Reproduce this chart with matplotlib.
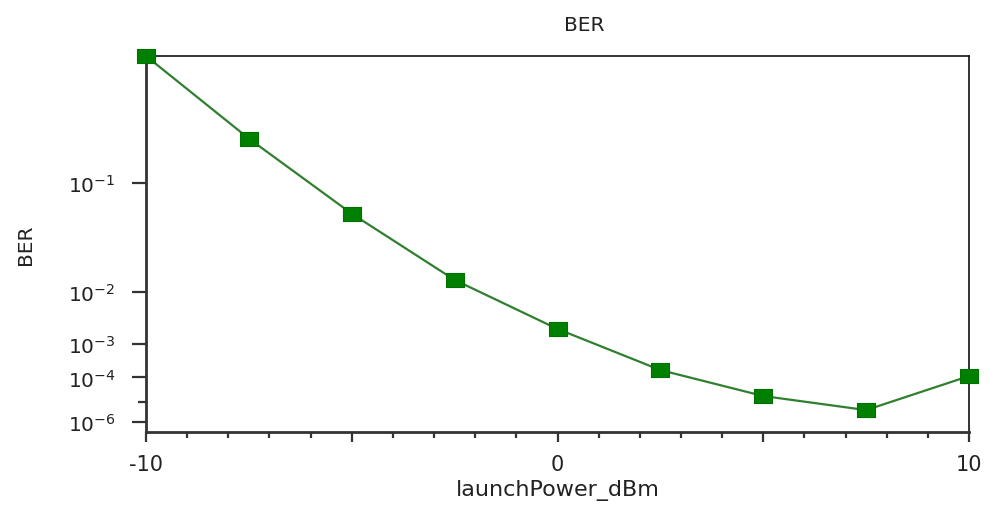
import math
import numpy as np
import matplotlib
matplotlib.use("Agg")
import matplotlib.pyplot as plt
from matplotlib.ticker import FixedLocator, FixedFormatter, NullFormatter

plt.rcParams["font.family"] = ["DejaVu Sans"]
plt.rcParams["mathtext.default"] = "regular"

# Swept launch power and the resulting bit error rate
launch_power_dbm = [-10, -7.5, -5, -2.5, 0, 2.5, 5, 7.5, 10]
ber_values = [0.262, 0.158, 0.065, 0.0147, 0.00218, 1.77e-4, 1.9e-5, 4.3e-6, 1.11e-4]

ber_ticks = [1e-1, 1e-2, 1e-3, 1e-4, 1e-6]
ber_tick_labels = ["10$^{-1}$", "10$^{-2}$", "10$^{-3}$", "10$^{-4}$", "10$^{-6}$"]
ber_minor_ticks = [1e-5]
x_major_ticks = [-10, -5, 0, 5, 10]
x_major_labels = ["-10", "", "0", "", "10"]
x_minor_ticks = list(range(-10, 11))

_erfc = np.vectorize(math.erfc)


def q_from_ber(ber):
    """Inverse of BER = 0.5*erfc(Q/sqrt(2)) by bisection."""
    ber = np.clip(np.asarray(ber, dtype=float), 1e-300, 0.5 - 1e-12)
    lo = np.zeros_like(ber)
    hi = np.full_like(ber, 40.0)
    for _ in range(80):
        mid = 0.5 * (lo + hi)
        val = 0.5 * _erfc(mid / math.sqrt(2.0))
        too_big = val > ber
        lo = np.where(too_big, mid, lo)
        hi = np.where(too_big, hi, mid)
    return np.maximum(0.5 * (lo + hi), 1e-9)


def ber_forward(ber):
    return -np.log10(q_from_ber(ber))


def ber_inverse(y):
    q = 10.0 ** (-np.asarray(y, dtype=float))
    return 0.5 * _erfc(q / math.sqrt(2.0))


fig = plt.figure(figsize=(9.89, 5.06), dpi=100)
ax = fig.add_axes([146 / 989, 1 - 433 / 506, 823 / 989, 376 / 506])

ax.set_yscale("function", functions=(ber_forward, ber_inverse))

marker_shape = [(-1.0, -0.78), (1.0, -0.78), (1.0, 0.78), (-1.0, 0.78), (-1.0, -0.78)]
ax.plot(launch_power_dbm, ber_values, color="#2f7f2f", lw=1.6,
        marker=marker_shape, markersize=12.5, markerfacecolor="#008000",
        markeredgecolor="#007000", markeredgewidth=0.8, clip_on=False, zorder=3)

ax.set_xlim(-10, 10)
ax.set_ylim(2.6e-7, 0.262)

ax.yaxis.set_major_locator(FixedLocator(ber_ticks))
ax.yaxis.set_major_formatter(FixedFormatter(ber_tick_labels))
ax.yaxis.set_minor_locator(FixedLocator(ber_minor_ticks))
ax.yaxis.set_minor_formatter(NullFormatter())

ax.xaxis.set_major_locator(FixedLocator(x_major_ticks))
ax.xaxis.set_major_formatter(FixedFormatter(x_major_labels))
ax.xaxis.set_minor_locator(FixedLocator(x_minor_ticks))

ax.tick_params(axis="y", which="major", direction="out", length=10, width=1.6,
               color="#333333", labelsize=14.5, pad=12, labelcolor="#222222")
ax.tick_params(axis="y", which="minor", direction="out", length=6, width=1.6,
               color="#333333")
ax.tick_params(axis="x", which="major", direction="out", length=7, width=1.6,
               color="#333333", labelsize=15, pad=9, labelcolor="#222222")
ax.tick_params(axis="x", which="minor", direction="out", length=4, width=1.6,
               color="#333333")

for side in ("left", "bottom"):
    ax.spines[side].set_linewidth(2.0)
    ax.spines[side].set_color("#333333")
for side in ("top", "right"):
    ax.spines[side].set_linewidth(1.2)
    ax.spines[side].set_color("#111111")

ax.set_title("BER", fontsize=14.5, color="#222222", pad=19, x=0.533)
ax.set_ylabel("BER", fontsize=14.5, color="#222222")
ax.yaxis.set_label_coords(-0.135, 0.5)
ax.set_xlabel("launchPower_dBm", fontsize=16, color="#222222")
ax.xaxis.set_label_coords(0.5, -0.125)

fig.savefig("out.png", dpi=100, facecolor="white")
